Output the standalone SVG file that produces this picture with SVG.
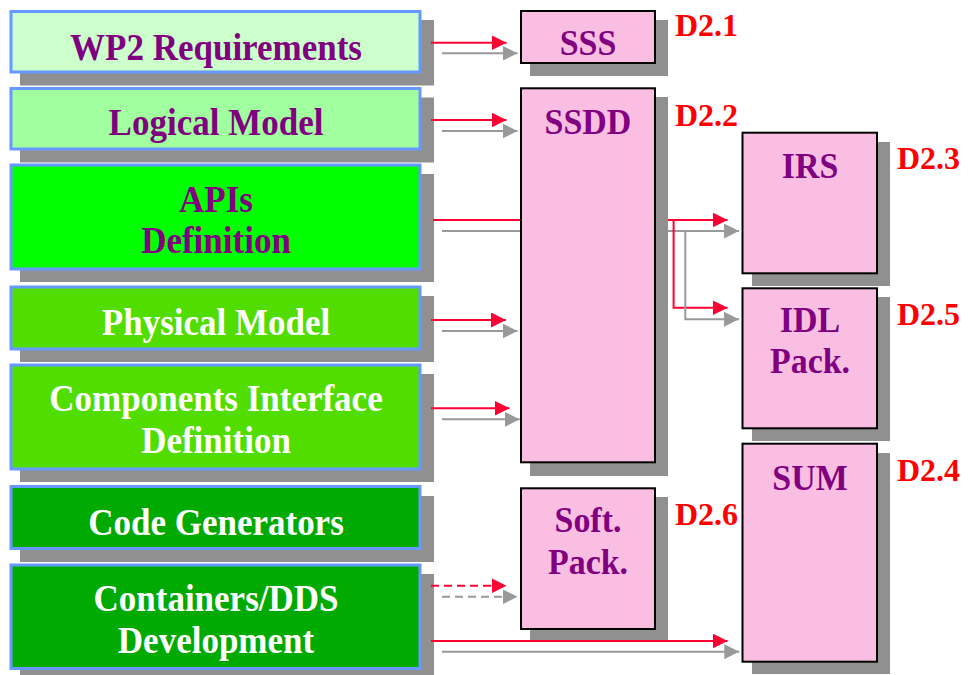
<svg xmlns="http://www.w3.org/2000/svg" width="972" height="675" viewBox="0 0 972 675">
<style>
.sh{fill:#909090}
.lb{stroke:#6699ff;stroke-width:3}
.rb{fill:#fbbee3;stroke:#000;stroke-width:2}
.t{font-family:"Liberation Serif","Times New Roman",serif;font-weight:bold;font-size:35px;text-anchor:middle}
.p{fill:#800080}
.w{fill:#ffffff}
.d{font-family:"Liberation Serif","Times New Roman",serif;font-weight:bold;font-size:32px;fill:#ff0000}
.r{fill:none;stroke:#ff0033;stroke-width:2}
.g{fill:none;stroke:#999999;stroke-width:2}
.ra{marker-end:url(#ar)}
.ga{marker-end:url(#ag)}
.dash{stroke-dasharray:8 5}
</style>
<defs>
<marker id="ar" markerUnits="userSpaceOnUse" markerWidth="15" markerHeight="15" refX="15" refY="7.5" orient="auto"><path d="M0,0 L15,7.5 L0,15 z" fill="#ff0033"/></marker>
<marker id="ag" markerUnits="userSpaceOnUse" markerWidth="15" markerHeight="15" refX="15" refY="7.5" orient="auto"><path d="M0,0 L15,7.5 L0,15 z" fill="#999999"/></marker>
</defs>
<rect width="972" height="675" fill="#ffffff"/>

<g id="wp2">
<rect class="sh" x="20" y="20" width="414" height="65.5"/>
<rect class="lb" x="11" y="11.5" width="409" height="60.5" fill="#ccffcc"/>
<text class="t p" transform="translate(216 60) scale(1 1.07)">WP2 Requirements</text>
</g>
<g id="logical">
<rect class="sh" x="20" y="97.5" width="414" height="65"/>
<rect class="lb" x="11" y="88.5" width="409" height="60.5" fill="#a2ffa0"/>
<text class="t p" transform="translate(216 135) scale(1 1.07)">Logical Model</text>
</g>
<g id="apis">
<rect class="sh" x="20" y="174" width="414" height="108"/>
<rect class="lb" x="11" y="165" width="409" height="104" fill="#00ff00"/>
<text class="t p" transform="translate(216 211.5) scale(1 1.07)">APIs</text>
<text class="t p" transform="translate(216 253) scale(1 1.07)">Definition</text>
</g>
<g id="physical">
<rect class="sh" x="20" y="296" width="414" height="66"/>
<rect class="lb" x="11" y="287" width="409" height="62" fill="#52dd00"/>
<text class="t w" transform="translate(216 335) scale(1 1.07)">Physical Model</text>
</g>
<g id="components">
<rect class="sh" x="20" y="374" width="414" height="108"/>
<rect class="lb" x="11" y="365" width="409" height="104" fill="#52dd00"/>
<text class="t w" transform="translate(216 410.5) scale(1 1.07)">Components Interface</text>
<text class="t w" transform="translate(216 453) scale(1 1.07)">Definition</text>
</g>
<g id="codegen">
<rect class="sh" x="20" y="496" width="414" height="66"/>
<rect class="lb" x="11" y="486.5" width="409" height="62" fill="#00aa00"/>
<text class="t w" transform="translate(216 535) scale(1 1.07)">Code Generators</text>
</g>
<g id="containers">
<rect class="sh" x="20" y="574" width="414" height="107"/>
<rect class="lb" x="11" y="565" width="409" height="103.5" fill="#00aa00"/>
<text class="t w" transform="translate(216 610.5) scale(1 1.07)">Containers/DDS</text>
<text class="t w" transform="translate(216 653) scale(1 1.07)">Development</text>
</g>

<g id="sss">
<rect class="sh" x="530" y="20" width="138" height="56"/>
<rect class="rb" x="521" y="11" width="134" height="52"/>
<text class="t p" transform="translate(588 54.5) scale(0.97 1.05)">SSS</text>
<text class="d" x="675" y="36">D2.1</text>
</g>
<g id="ssdd">
<rect class="sh" x="530" y="97" width="138" height="379"/>
<rect class="rb" x="521" y="88.3" width="134" height="374"/>
<text class="t p" transform="translate(588 134) scale(0.97 1.05)">SSDD</text>
<text class="d" x="675" y="126">D2.2</text>
</g>
<g id="irs">
<rect class="sh" x="752" y="142" width="138" height="144"/>
<rect class="rb" x="742.5" y="132.7" width="134.5" height="140.6"/>
<text class="t p" transform="translate(810 177.5) scale(0.97 1.05)">IRS</text>
<text class="d" x="897" y="169">D2.3</text>
</g>
<g id="idl">
<rect class="sh" x="752" y="297" width="138" height="144"/>
<rect class="rb" x="742.5" y="288.3" width="134.5" height="140"/>
<text class="t p" transform="translate(810 331.5) scale(0.97 1.05)">IDL</text>
<text class="t p" transform="translate(810 372.5) scale(0.97 1.05)">Pack.</text>
<text class="d" x="897" y="325">D2.5</text>
</g>
<g id="sum">
<rect class="sh" x="752" y="453" width="138" height="221"/>
<rect class="rb" x="742.5" y="443.7" width="134.5" height="218"/>
<text class="t p" transform="translate(810 490) scale(0.97 1.05)">SUM</text>
<text class="d" x="897" y="481">D2.4</text>
</g>
<g id="soft">
<rect class="sh" x="530" y="497" width="138" height="144"/>
<rect class="rb" x="521" y="488.3" width="134" height="140.7"/>
<text class="t p" transform="translate(588 531.5) scale(0.97 1.05)">Soft.</text>
<text class="t p" transform="translate(588 573.5) scale(0.97 1.05)">Pack.</text>
<text class="d" x="675" y="525">D2.6</text>
</g>

<g id="connectors">
<path class="r ra" d="M431,42.7 H506.5"/>
<path class="g ga" d="M442,53.3 H517.5"/>
<path class="r ra" d="M431,120 H506.5"/>
<path class="g ga" d="M442,131 H517.5"/>
<path class="r" d="M433,220 H520"/>
<path class="g" d="M442,231 H520"/>
<path class="r ra" d="M668,220 H727.6"/>
<path class="g ga" d="M668,231 H739"/>
<path class="r ra" d="M673.6,220 V307.7 H727.6"/>
<path class="g ga" d="M685.3,231 V319.3 H739"/>
<path class="r ra" d="M431,320 H506"/>
<path class="g ga" d="M442,331 H517.5"/>
<path class="r ra" d="M431,408.3 H509.5"/>
<path class="g ga" d="M442,419.3 H519.7"/>
<path class="r ra dash" d="M431,585.7 H506.5"/>
<path class="g ga dash" d="M442,596.7 H517.5"/>
<path class="r ra" d="M431,641 H727.6"/>
<path class="g ga" d="M442,651.7 H739.3"/>
</g>
</svg>
